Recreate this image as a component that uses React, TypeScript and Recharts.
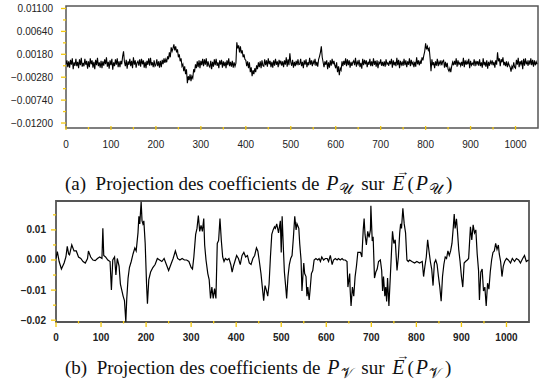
import React from 'react';
import { LineChart, Line, XAxis, YAxis, ReferenceArea } from 'recharts';

// x runs over the coefficient index, 0..1050 on both panels
const X_DOMAIN: [number, number] = [0, 1050];
const X_TICKS = [0, 50, 100, 150, 200, 250, 300, 350, 400, 450, 500, 550, 600, 650, 700, 750, 800, 850, 900, 950, 1000];
const X_LABELS = [0, 100, 200, 300, 400, 500, 600, 700, 800, 900, 1000];

// (a) projection on E(P_U), one value every 2 indices, in units of 1e-4
const A_STEP = 2;
const PROJ_U = [
  -2, 6, -8, 4, -9, 7, -3, 10, -12, 2, -5, 9, -6, 3, -10, 8, -4, 11, -7, 1,
  -6, 9, -3, 5, -11, 4, -8, 10, -2, 6, -9, 3, -12, 7, -4, 11, -6, 2, -9, 5,
  -10, 4, -5, 8, -2, 12, -7, 3, -11, 6, -4, 9, -13, 2, -6, 8, -3, 10, -8, 4,
  -8, 5, -2, 14, 24, 3, -6, 7, -11, 4, -3, 9, -6, 5, -10, 12, -3, 6, -9, 1,
  4, -5, 8, -7, 9, -2, 6, -9, 3, -10, 5, -3, 10, -5, 11, -4, 2, -8, 6, -6,
  -3, 8, -6, 4, -9, 5, -8, 7, -2, 10, 1, 8, 2, 14, 8, 22, 12, 32, 24, 30,
  38, 26, 34, 22, 28, 12, 18, 4, 10, -6, -2, -16, -6, -22, -12, -40, -26, -34, -22, -36,
  -26, -30, -12, -18, -2, -10, 4, -8, 6, -10, 5, -4, 9, -6, 8, -3, 10, -7, 4, -5,
  -8, 5, -12, 3, -7, 8, -4, 9, -5, 2, -10, 6, -3, 7, -9, 4, -6, 3, -10, 6,
  -4, 10, -6, 3, -7, 5, -9, 2, -6, 0, 42, 30, 36, 22, 34, 20, 26, 12, 18, 8,
  6, -6, 4, -10, 2, -18, -8, -26, -14, -22, -10, -18, -4, -12, 2, -8, 4, -10, 6, -5,
  -6, 8, -4, 6, -7, 10, -2, 5, -8, 3, -9, 6, -5, 9, -3, 4, -8, 7, -1, 5,
  -5, 4, -8, 6, -3, 12, -7, 8, -4, 20, 2, -5, 7, -9, 3, -6, 5, -4, 8, -3,
  -2, 9, -6, 3, -10, 6, -3, 8, -8, 2, -4, 11, -3, 6, -6, 4, -1, 9, -5, 3,
  -7, 8, 14, 22, 34, 12, 2, -8, 4, -3, 6, -12, 2, -9, 6, -5, 9, -2, 5, -4,
  -10, 2, -18, -6, -24, -10, -14, 4, -6, 5, -3, 10, -6, 8, -4, 6, -9, 3, -5, 2,
  5, -4, 11, -7, 3, -2, 7, -8, 1, -11, 9, -4, 7, -2, 6, -8, 3, -3, 9, -6,
  4, -6, 10, -3, 5, -7, 6, -10, 2, -1, 8, -5, 3, -6, 4, -7, 8, -2, 1, -5,
  5, -2, 9, -9, 6, -4, 3, -6, 11, -4, 7, -10, 5, -3, 2, -5, 9, -4, 6, -8,
  4, -3, 10, -6, 7, -2, 2, -8, 3, -7, 12, -2, 6, -4, 4, -1, 12, 6, 16, 24,
  40, 28, 34, 26, 30, 10, -16, 8, -4, 2, -10, 4, -5, 9, -6, 3, -2, 6, -4, 4,
  6, -9, 3, -8, 1, -12, -16, -10, -18, -6, 2, -4, 5, -3, 10, -7, 6, -2, 1, -5,
  3, -5, 11, -8, 6, -3, 4, -2, 9, -10, 5, -4, 0, -3, 8, -6, 5, -2, 4, -5,
  8, -6, 2, -9, 10, -4, 3, -7, 6, -11, 3, -5, 4, -1, 6, -4, 3, -9, 6, -3,
  22, 4, 10, -6, 8, 2, 12, -4, 3, -6, 4, -8, 1, -4, -8, -17, -6, -10, 2, -8,
  -10, 7, -3, 11, -8, 4, -2, 6, -12, 9, -5, 10, -2, 3, -5, 6, -3, 10, -4, 7,
  -7, 6, -4, 3, -2,
];
const A_Y_DOMAIN: [number, number] = [-0.013, 0.0115];
const A_Y_TICKS = [0.011, 0.0087, 0.0064, 0.0041, 0.0018, -0.0005, -0.0028, -0.0051, -0.0074, -0.0097, -0.012];
const A_Y_LABELS = [0.011, 0.0064, 0.0018, -0.0028, -0.0074, -0.012];

// (b) projection on E(P_V): [index, value in units of 1e-3]
const PROJ_V: [number, number][] = [
  [0, 0.5], [3, 2.8], [7, -0.5], [12, -3], [18, -1], [22, 1], [25, 4.5], [28, 2], [30, 1.7], [35, 5],
  [40, 3], [45, 3], [50, 1], [55, 0.5], [60, -0.5], [65, -1], [70, 0.5], [72, 3], [77, 1], [82, 0],
  [87, -0.2], [92, 0.5], [97, 1], [102, 0.5], [104, 10.5], [106, 1.5], [110, 1], [115, 0], [120, -0.5], [123, -10],
  [126, 0], [130, 1], [133, -5], [136, 0.5], [140, -2], [143, -8], [146, -10], [149, -12], [152, -13.5], [155, -20.5],
  [157, -13], [160, -6], [163, -2.5], [167, -0.5], [171, 2], [175, 4], [178, 3], [182, 9], [184, 14.5], [186, 12],
  [189, 19.3], [191, 13], [193, 12], [195, 13], [198, 5.5], [201, -8], [203, -14.5], [206, -6.5], [210, -4], [215, -2.5],
  [220, -1.5], [225, 0.5], [230, 0], [235, -0.5], [240, 0.5], [245, -1.5], [250, -3.5], [255, -1.5], [260, 0.5], [265, 3],
  [270, 0.5], [275, 0], [280, 0.5], [285, 0], [290, 0], [295, -0.5], [300, -2.5], [303, -3], [306, 1], [310, 8.5],
  [313, 10.5], [316, 14.8], [319, 9.5], [322, 11.5], [325, 9.5], [328, 13.8], [330, 5], [333, 0], [337, -4.5], [340, -6.5],
  [343, -12.8], [346, -9], [349, -12.8], [352, -9.5], [355, -12.8], [358, 5.5], [361, 6.5], [364, 13.8], [367, 6.5], [370, 1],
  [373, -0.5], [376, 0.5], [380, 0], [384, 0.5], [388, -1.5], [391, -4], [394, -2], [397, -0.5], [401, 1.5], [405, 0.5],
  [409, -1.5], [413, 1.5], [417, 2.5], [421, 1], [425, 1.5], [429, -1], [433, -1.5], [437, 0.5], [441, 1.5], [445, 4],
  [448, 3], [451, 0], [455, -4.5], [458, -9], [461, -13.5], [464, -8.5], [467, -10], [470, -12], [473, -8], [476, 1],
  [479, 8.5], [482, 10], [485, 11], [487, 10.5], [490, 12], [494, 9], [498, 13], [500, 2.5], [502, 14.5], [505, 3],
  [507, -4], [510, -9], [512, -12.8], [515, -5.5], [518, -1.5], [521, 0.5], [524, 1.5], [527, 7.5], [530, 14.5], [533, 10],
  [535, 12], [539, 10.5], [541, 5.5], [544, 0], [546, -10.3], [550, -1], [552, -4.5], [555, -5.5], [557, -12], [559, -9],
  [562, -13.3], [564, -10], [567, -4.5], [570, -3.5], [573, 0], [577, 0.5], [581, 0], [584, 0.5], [587, -0.5], [590, 1],
  [594, 0], [598, 0.5], [602, 0.5], [605, -0.5], [609, 1.5], [613, -1.5], [616, 0], [620, 0.5], [624, 0], [627, 0.5],
  [631, 0], [635, 0.5], [638, 0], [642, 0], [646, -0.5], [648, -9], [652, -4.5], [653, -10], [655, -15.3], [658, -9],
  [661, -12], [664, -5.5], [667, -2], [670, 2.5], [673, 2.5], [676, 2.5], [679, 1], [682, 10], [684, 13.8], [686, 8.5],
  [689, 5], [692, 9.5], [695, 7.5], [698, 10], [699, 18], [702, 6.3], [704, 7.7], [707, -6], [710, -4], [713, -3],
  [716, -0.5], [720, 0], [723, -3.5], [725, -10.3], [727, -5.5], [730, -12], [732, -9], [734, -13.8], [736, -6], [739, -15.3],
  [742, -6], [745, 3.5], [747, 9.5], [750, 5.5], [753, 6.7], [757, -3.5], [760, 1], [763, 9], [765, 12], [767, 10.5],
  [770, 17.2], [773, 12], [776, 9], [779, 0], [782, -0.5], [785, 0], [790, -0.5], [796, -1], [801, -0.5], [807, -1],
  [813, -0.5], [816, -5.5], [819, -2], [822, 1], [825, 6.7], [828, 3], [831, -0.5], [834, -3], [837, -8.5], [840, -1],
  [843, 0], [846, -1.5], [849, -5.5], [852, -9], [855, -13.7], [858, -5.5], [861, -1.5], [864, 1], [867, 0.5], [870, 3],
  [873, 1.5], [876, 3], [879, 5.5], [882, 11], [884, 15.3], [886, 10.5], [889, 13.7], [891, 10], [894, 3.5], [897, -0.5],
  [900, -5.5], [903, -9], [906, -1], [909, -0.5], [913, 0], [916, 0.5], [920, 11], [923, 6.7], [926, 11.7], [929, 9],
  [932, 10], [935, 2], [938, -3.5], [940, -13.3], [943, -4], [946, -3], [949, -10.3], [952, -9], [955, -15.3], [958, -7.7],
  [961, -9.7], [964, -4], [967, 0], [970, 2.5], [973, 3], [976, 5.5], [979, 3.5], [982, 5], [984, 2], [987, -0.5],
  [990, -5.5], [993, -2], [996, -0.5], [1000, 0.5], [1004, 0], [1009, -1], [1013, 0.5], [1018, -0.5], [1022, 0.5], [1027, 0],
  [1031, -1], [1036, 0.5], [1040, 1.5], [1044, -0.5], [1049, 0],
];
const B_Y_DOMAIN: [number, number] = [-0.0206, 0.0196];
const B_Y_TICKS = [0.015, 0.01, 0.005, 0, -0.005, -0.01, -0.015, -0.02];
const B_Y_LABELS = [0.01, 0, -0.01, -0.02];

const dataU = PROJ_U.map((v, i) => ({ x: i * A_STEP, y: v * 1e-4 }));
const dataV = PROJ_V.map(([x, v]) => ({ x, y: v * 1e-3 }));

const TICK_YELLOW = '#f3c80f';
const FRAME = '#555';
const SANS = '"Liberation Sans", Arial, sans-serif';

const isIn = (list: number[], v: number) => list.some((l) => Math.abs(l - v) < 1e-9);
const fmt = (v: number, digits: number) => {
  const s = Math.abs(v).toFixed(digits);
  return v < -1e-12 ? `\u2212${s}` : s;
};

const makeYTick = (axisX: number, labels: number[], digits: number, bold: boolean, gap: number) => (p: any) => {
  const v = p.payload.value;
  const major = isIn(labels, v);
  return (
    <g>
      <line x1={axisX - (major ? 5 : 3)} x2={axisX} y1={p.y} y2={p.y} stroke={TICK_YELLOW} strokeWidth={1.3} />
      {major && (
        <text x={axisX - gap} y={p.y + 3.5} textAnchor="end" fontSize={10} fontFamily={SANS}
          fontWeight={bold ? 700 : 400} fill="#222">
          {fmt(v, digits)}
        </text>
      )}
    </g>
  );
};

const makeXTick = (axisY: number, up: number, down: number, labelDy: number, bold: boolean) => (p: any) => {
  const v = p.payload.value;
  const major = isIn(X_LABELS, v);
  return (
    <g>
      <line x1={p.x} x2={p.x} y1={axisY - (major ? up : 1)} y2={axisY + (major ? down : 1.5)} stroke={TICK_YELLOW} strokeWidth={1.3} />
      {major && (
        <text x={p.x} y={axisY + labelDy} textAnchor="middle" fontSize={10} fontFamily={SANS}
          fontWeight={bold ? 700 : 400} fill="#222">
          {v}
        </text>
      )}
    </g>
  );
};

const captionStyle: React.CSSProperties = {
  position: 'absolute',
  left: 65,
  fontFamily: '"Liberation Serif", "Times New Roman", serif',
  fontSize: 19,
  lineHeight: '22px',
  whiteSpace: 'nowrap',
  color: '#111',
};

const Sym = ({ s }: { s: string }) => (
  <span>
    <i style={{ fontSize: 20, marginLeft: 2 }}>P</i>
    <sub style={{ fontSize: 15, verticalAlign: '-4px', marginLeft: 1, marginRight: 3 }}>{s}</sub>
  </span>
);

const VecE = () => (
  <span style={{ position: 'relative', marginLeft: 3, marginRight: 3 }}>
    <i style={{ fontSize: 20 }}>E</i>
    <span style={{ position: 'absolute', left: 4, top: -8, fontSize: 13, lineHeight: '13px', fontStyle: 'normal' }}>{'\u2192'}</span>
  </span>
);

export default function App() {
  return (
    <div style={{ position: 'absolute', left: 0, top: 0, width: 543, height: 383, background: '#fff' }}>
      <div style={{ position: 'absolute', left: 0, top: 0 }}>
        <LineChart width={543} height={152} data={dataU} margin={{ top: 6, right: 5, bottom: 0, left: 0 }}>
          <XAxis type="number" dataKey="x" domain={X_DOMAIN} allowDataOverflow ticks={X_TICKS} interval={0}
            axisLine={false} tickLine={false} height={24} tick={makeXTick(128, 2, 2, 19.5, false)} />
          <YAxis type="number" domain={A_Y_DOMAIN} allowDataOverflow ticks={A_Y_TICKS} interval={0}
            axisLine={false} tickLine={false} width={66} tick={makeYTick(66, A_Y_LABELS, 5, false, 13)} />
          <ReferenceArea x1={X_DOMAIN[0]} x2={X_DOMAIN[1]} y1={A_Y_DOMAIN[0]} y2={A_Y_DOMAIN[1]}
            fill="none" stroke={FRAME} strokeWidth={1.5} ifOverflow="visible" />
          <Line type="linear" dataKey="y" stroke="#000" strokeWidth={1.1} dot={false} isAnimationActive={false} />
        </LineChart>
      </div>
      <div style={{ ...captionStyle, top: 172 }}>
        (a)&nbsp; Projection des coefficients de <Sym s={'\u{1D4B0}'} /> sur <VecE />(<Sym s={'\u{1D4B0}'} />)
      </div>
      <div style={{ position: 'absolute', left: 0, top: 195 }}>
        <LineChart width={543} height={150} data={dataV} margin={{ top: 6, right: 14, bottom: 0, left: 0 }}>
          <XAxis type="number" dataKey="x" domain={X_DOMAIN} allowDataOverflow ticks={X_TICKS} interval={0}
            axisLine={false} tickLine={false} height={23} tick={makeXTick(127, 0, 5, 18.5, true)} />
          <YAxis type="number" domain={B_Y_DOMAIN} allowDataOverflow ticks={B_Y_TICKS} interval={0}
            axisLine={false} tickLine={false} width={56} tick={makeYTick(56, B_Y_LABELS, 2, true, 10)} />
          <ReferenceArea x1={X_DOMAIN[0]} x2={X_DOMAIN[1]} y1={B_Y_DOMAIN[0]} y2={B_Y_DOMAIN[1]}
            fill="none" stroke={FRAME} strokeWidth={1.8} ifOverflow="visible" />
          <Line type="linear" dataKey="y" stroke="#000" strokeWidth={1.2} dot={false} isAnimationActive={false} />
        </LineChart>
      </div>
      <div style={{ ...captionStyle, top: 356 }}>
        (b)&nbsp; Projection des coefficients de <Sym s={'\u{1D4B1}'} /> sur <VecE />(<Sym s={'\u{1D4B1}'} />)
      </div>
    </div>
  );
}
